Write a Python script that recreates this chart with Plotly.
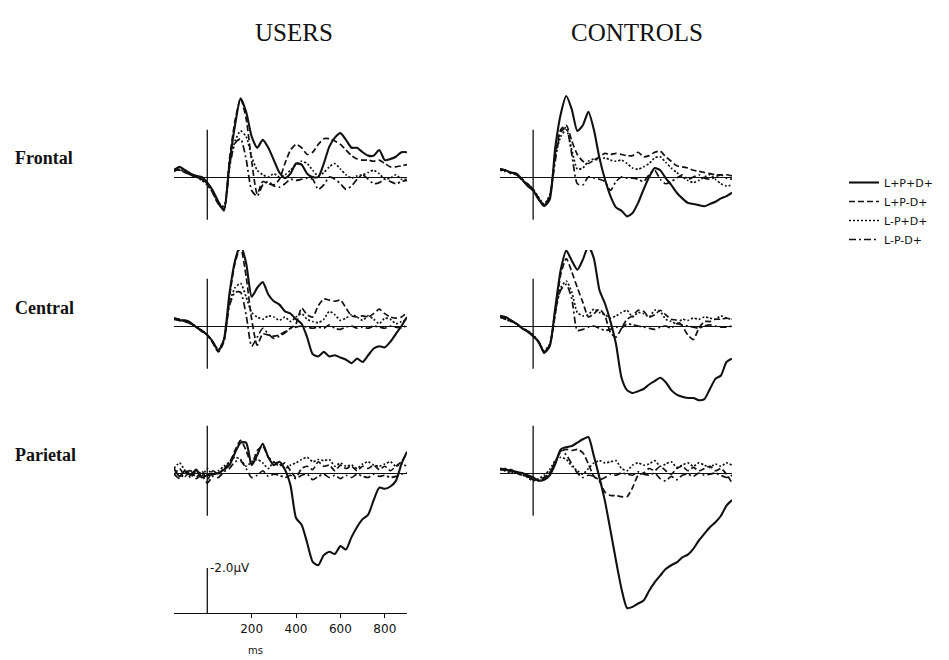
import plotly.graph_objects as go

# ---------------- data (µV, ERP convention: negative plotted upward) ----------------
T_MS = [-150, -125, -100, -75, -50, -25, 0, 25, 50, 75, 100, 125, 150, 175, 200, 225, 250,
        275, 300, 325, 350, 375, 400, 425, 450, 475, 500, 525, 550, 575, 600, 625, 650,
        675, 700, 725, 750, 775, 800, 825, 850, 875, 900]

CONDITIONS = ["L+P+D+", "L+P-D+", "L-P+D+", "L-P-D+"]
GROUPS = ["USERS", "CONTROLS"]
SITES = ["Frontal", "Central", "Parietal"]

# USERS - Frontal
uf_pp = [-0.3, -0.45, -0.3, -0.15, -0.05, 0.0, 0.25, 0.6, 1.1, 1.5, -0.6, -2.3, -3.5, -2.9, -1.8, -1.3, -1.65, -1.3, -0.75, -0.2, 0.05, -0.15, -0.6, -0.55, -0.15, 0.0, 0.0, -0.6, -1.35, -1.75, -1.95, -1.65, -1.3, -1.3, -1.1, -0.95, -0.95, -1.2, -0.75, -0.8, -0.9, -1.1, -1.1]
uf_pm = [-0.35, -0.3, -0.2, -0.1, 0.0, 0.1, 0.3, 0.7, 1.2, 1.4, -0.8, -2.5, -3.5, -2.6, -0.7, 0.75, 0.2, 0.3, 0.35, 0.1, -0.6, -1.2, -1.45, -1.3, -1.0, -1.1, -1.45, -1.7, -1.7, -1.6, -1.45, -1.2, -0.95, -0.8, -0.75, -0.75, -0.7, -0.75, -0.6, -0.45, -0.45, -0.5, -0.55]
uf_mp = [-0.25, -0.35, -0.2, -0.1, 0.0, 0.15, 0.35, 0.7, 1.15, 1.3, -0.5, -1.6, -2.05, -1.8, -0.9, -0.3, -0.1, 0.0, -0.15, 0.0, -0.1, -0.3, -0.55, -0.7, -0.6, -0.3, -0.05, -0.2, -0.45, -0.6, -0.35, -0.1, 0.05, -0.05, -0.1, -0.2, -0.3, -0.15, 0.1, 0.05, -0.1, 0.1, 0.1]
uf_mm = [-0.3, -0.3, -0.25, -0.1, 0.0, 0.1, 0.3, 0.7, 1.2, 1.45, -0.4, -1.5, -1.7, -0.8, 0.6, 0.85, 0.35, 0.2, 0.4, 0.45, 0.3, 0.1, 0.15, 0.1, 0.05, 0.1, 0.55, 0.35, 0.0, 0.1, 0.3, 0.55, 0.4, 0.1, -0.1, 0.1, 0.3, 0.25, 0.1, 0.2, 0.3, 0.2, 0.15]

# CONTROLS - Frontal
cf_pp = [-0.35, -0.3, -0.2, -0.15, 0.1, 0.4, 0.6, 1.0, 1.3, 1.0, -1.3, -2.8, -3.6, -3.0, -2.05, -2.3, -2.9, -2.1, -0.85, 0.1, 0.85, 1.35, 1.5, 1.75, 1.6, 1.15, 0.55, 0.0, -0.4, -0.3, 0.05, 0.35, 0.7, 0.95, 1.15, 1.2, 1.25, 1.3, 1.2, 1.1, 0.95, 0.85, 0.7]
cf_pm = [-0.35, -0.3, -0.2, -0.1, 0.15, 0.35, 0.55, 0.95, 1.25, 0.85, -1.0, -2.1, -2.3, -1.6, -1.0, -0.7, -0.6, -0.75, -0.9, -1.05, -1.0, -1.05, -1.0, -0.95, -0.95, -1.1, -0.9, -0.95, -1.1, -1.15, -0.9, -0.7, -0.5, -0.45, -0.4, -0.3, -0.25, -0.2, -0.15, -0.1, -0.1, -0.1, -0.05]
cf_mp = [-0.3, -0.25, -0.2, -0.1, 0.1, 0.35, 0.55, 0.9, 1.2, 0.8, -0.9, -1.8, -2.1, -1.2, -0.35, -0.4, -0.7, -0.8, -0.75, -0.85, -0.75, -0.7, -0.75, -0.6, -0.4, -0.35, -0.45, -0.6, -0.85, -0.9, -0.65, -0.4, -0.2, 0.0, 0.15, 0.25, 0.15, 0.0, -0.1, 0.1, 0.3, 0.4, 0.35]
cf_mm = [-0.35, -0.3, -0.15, -0.1, 0.1, 0.3, 0.55, 0.95, 1.25, 0.85, -0.7, -2.0, -2.2, -1.0, 0.3, 0.35, 0.0, 0.05, 0.1, 0.2, 0.6, 0.2, 0.0, 0.05, 0.05, 0.1, 0.2, -0.1, -0.3, 0.1, 0.3, 0.2, 0.05, -0.1, 0.1, 0.0, -0.1, 0.05, 0.1, 0.0, -0.1, 0.05, 0.1]

# USERS - Central
uc_pp = [-0.3, -0.25, -0.25, -0.15, 0.05, 0.2, 0.4, 0.7, 1.1, 0.6, -1.45, -2.9, -3.6, -2.8, -1.3, -1.7, -1.95, -1.4, -1.1, -0.95, -0.65, -0.55, -0.3, -0.1, 0.5, 1.25, 1.35, 1.15, 1.35, 1.3, 1.4, 1.5, 1.65, 1.45, 1.6, 1.3, 1.0, 0.9, 0.95, 0.7, 0.35, 0.0, -0.4]
uc_pm = [-0.35, -0.3, -0.2, -0.1, 0.05, 0.25, 0.4, 0.75, 1.15, 0.7, -1.3, -2.8, -3.5, -2.2, -0.3, 0.85, 0.35, 0.4, 0.45, 0.4, 0.25, 0.1, -0.1, -0.8, -0.5, -0.4, -0.9, -1.2, -1.15, -1.1, -1.15, -0.8, -0.45, -0.4, -0.45, -0.4, -0.55, -0.75, -0.55, -0.4, -0.35, -0.4, -0.6]
uc_mp = [-0.3, -0.3, -0.2, -0.1, 0.05, 0.2, 0.4, 0.7, 1.05, 0.6, -1.0, -1.7, -1.9, -1.3, -0.6, -0.4, -0.3, -0.45, -0.4, -0.25, -0.4, -0.2, -0.4, -0.55, -0.3, -0.2, -0.15, -0.3, -0.65, -0.5, -0.25, -0.35, -0.5, -0.4, -0.25, -0.45, -0.3, -0.1, -0.35, -0.3, -0.1, -0.2, -0.3]
uc_mm = [-0.35, -0.25, -0.2, -0.1, 0.0, 0.2, 0.4, 0.75, 1.1, 0.65, -0.9, -1.5, -1.5, -0.5, 0.9, 0.5, 0.1, 0.35, 0.55, 0.45, 0.3, 0.1, 0.05, 0.0, 0.05, 0.1, 0.05, 0.1, -0.05, 0.1, 0.15, 0.05, 0.0, 0.1, 0.05, 0.1, 0.0, 0.05, 0.1, 0.0, 0.05, 0.1, -0.05]

# CONTROLS - Central
cc_pp = [-0.45, -0.4, -0.25, -0.1, 0.1, 0.25, 0.45, 0.7, 1.2, 0.9, -0.8, -2.5, -3.35, -2.9, -2.5, -2.95, -3.55, -3.0, -1.6, -1.0, -0.2, 0.8, 2.3, 2.85, 2.98, 2.9, 2.8, 2.6, 2.45, 2.3, 2.5, 2.85, 3.05, 3.15, 3.2, 3.2, 3.3, 3.25, 2.8, 2.35, 2.2, 1.6, 1.45]
cc_pm = [-0.4, -0.35, -0.25, -0.1, 0.1, 0.25, 0.45, 0.75, 1.15, 0.85, -0.5, -2.3, -3.0, -2.4, -1.7, -1.05, -0.4, -0.55, -0.75, -0.45, 0.3, 0.5, 0.1, -0.3, -0.45, -0.7, -0.65, -0.4, -0.5, -0.7, -0.5, -0.3, -0.25, 0.0, 0.4, 0.6, 0.1, -0.2, -0.2, -0.3, -0.3, -0.35, -0.3]
cc_mp = [-0.4, -0.3, -0.2, -0.1, 0.1, 0.2, 0.4, 0.7, 1.1, 0.8, -0.6, -1.7, -2.0, -1.5, -0.6, -0.45, -0.5, -0.75, -0.6, -0.5, -0.35, -0.45, -0.6, -0.7, -0.4, -0.6, -0.55, -0.4, -0.7, -0.65, -0.3, -0.2, -0.1, -0.3, -0.25, -0.35, -0.3, -0.4, -0.35, -0.3, -0.45, -0.35, -0.3]
cc_mm = [-0.4, -0.3, -0.2, -0.1, 0.1, 0.25, 0.4, 0.7, 1.15, 0.85, -0.7, -1.6, -1.85, -1.2, 0.2, 0.15, 0.05, 0.0, 0.1, 0.2, 0.15, 0.05, 0.1, -0.1, -0.05, 0.0, 0.05, 0.1, 0.15, 0.05, 0.0, 0.1, -0.1, -0.05, 0.0, 0.05, 0.1, 0.0, -0.05, 0.0, 0.05, 0.05, 0.0]

# USERS - Parietal
up_pp = [-0.2, 0.15, -0.1, 0.1, -0.15, 0.2, 0.1, 0.05, 0.0, -0.15, -0.35, -0.9, -1.35, -1.35, -0.35, -0.8, -1.3, -0.7, -0.35, -0.5, -0.15, 0.55, 2.0, 2.3, 3.1, 3.95, 4.1, 3.65, 3.5, 3.6, 3.25, 3.4, 2.85, 2.4, 2.05, 1.85, 1.2, 0.65, 0.7, 0.6, 0.35, -0.4, -0.95]
up_pm = [0.1, -0.2, 0.15, -0.1, 0.2, -0.1, 0.3, -0.1, 0.05, -0.2, -0.45, -1.0, -1.45, -1.0, -0.4, -1.0, -1.2, -0.7, -0.5, -0.3, -0.45, -0.1, 0.2, -0.2, -0.3, -0.15, -0.5, -0.3, -0.35, -0.1, -0.35, -0.2, -0.3, -0.1, -0.3, -0.2, -0.35, -0.15, -0.3, -0.1, -0.3, -0.5, -0.9]
up_mp = [-0.2, -0.45, -0.1, 0.2, -0.1, 0.15, -0.2, 0.1, -0.1, -0.3, -0.5, -0.7, -0.6, -0.3, -0.5, -0.6, -0.45, -0.2, -0.5, -0.4, -0.2, -0.35, -0.45, -0.6, -0.7, -0.5, -0.6, -0.55, -0.6, -0.3, -0.45, -0.3, -0.35, -0.2, -0.4, -0.5, -0.35, -0.3, -0.4, -0.5, -0.3, -0.4, -0.3]
up_mm = [0.05, 0.25, 0.0, -0.1, 0.25, 0.1, 0.45, 0.15, 0.2, -0.05, -0.2, -0.5, -0.55, -0.2, 0.2, 0.1, -0.1, 0.15, 0.05, 0.1, 0.2, 0.1, 0.25, 0.1, 0.05, 0.3, 0.15, 0.05, 0.2, 0.1, 0.25, 0.1, 0.2, 0.05, 0.15, 0.2, 0.05, 0.15, 0.1, 0.2, 0.15, 0.05, 0.0]

# CONTROLS - Parietal
cp_pp = [-0.2, -0.15, -0.1, -0.05, 0.0, 0.1, 0.2, 0.33, 0.3, 0.1, -0.4, -1.05, -1.15, -1.2, -1.35, -1.5, -1.6, -0.75, 0.2, 1.25, 2.55, 3.9, 5.15, 6.0, 5.95, 5.8, 5.67, 5.23, 4.86, 4.56, 4.27, 4.1, 3.97, 3.75, 3.63, 3.37, 3.0, 2.7, 2.41, 2.19, 1.9, 1.45, 1.2]
cp_pm = [-0.2, -0.1, -0.15, 0.0, 0.1, 0.15, 0.3, 0.3, 0.2, 0.0, -0.5, -0.95, -1.05, -1.0, -1.05, -0.9, -0.4, 0.15, 0.35, 0.85, 1.0, 1.0, 1.05, 1.05, 0.65, 0.1, 0.0, -0.2, -0.1, -0.3, -0.1, 0.05, -0.2, -0.3, -0.1, -0.25, -0.1, -0.2, -0.3, -0.1, -0.2, 0.05, 0.45]
cp_mp = [-0.15, -0.1, 0.0, -0.05, 0.05, 0.2, 0.35, 0.25, 0.1, -0.15, -0.55, -0.7, -0.6, -0.3, -0.1, 0.05, -0.2, -0.45, -0.55, -0.45, -0.5, -0.55, -0.2, -0.1, -0.35, -0.45, -0.35, -0.4, -0.55, -0.3, -0.4, -0.5, -0.25, -0.35, -0.45, -0.3, -0.45, -0.35, -0.25, -0.4, -0.3, -0.45, -0.35]
cp_mm = [-0.15, -0.2, -0.05, 0.0, 0.1, 0.15, 0.3, 0.35, 0.2, 0.0, -0.5, -1.0, -0.8, -0.4, 0.0, 0.2, 0.1, 0.15, 0.3, 0.2, 0.05, 0.1, 0.0, 0.05, 0.1, -0.05, 0.05, 0.1, 0.0, 0.25, 0.35, 0.15, 0.3, 0.1, 0.05, 0.15, 0.0, 0.1, 0.05, 0.0, 0.1, 0.2, 0.1]

STIM_MARK_UV = [-2.1, 1.9]          # vertical stimulus-onset marker extent
SCALE_UV = -2.0                      # calibration bar
SCALE_TICKS_MS = [200, 400, 600, 800]

PANELS = {
    ("USERS", "Frontal"): [uf_pp, uf_pm, uf_mp, uf_mm],
    ("CONTROLS", "Frontal"): [cf_pp, cf_pm, cf_mp, cf_mm],
    ("USERS", "Central"): [uc_pp, uc_pm, uc_mp, uc_mm],
    ("CONTROLS", "Central"): [cc_pp, cc_pm, cc_mp, cc_mm],
    ("USERS", "Parietal"): [up_pp, up_pm, up_mp, up_mm],
    ("CONTROLS", "Parietal"): [cp_pp, cp_pm, cp_mp, cp_mm],
}

# ---------------- layout geometry (screen pixels of the 949x660 window) ----------------
VW, VH = 949, 660
OFF = 8                       # default page margin around the plot div
FW, FH = VW - OFF, VH - OFF   # figure size


def fx(px):
    return (px - OFF) / FW


def fy(py):
    return 1 - (py - OFF) / FH


INK = "#111111"
PX_PER_UV = 22.5
COL_PX = {"USERS": (174, 407), "CONTROLS": (500, 732)}
ROW_PX = {  # (band top, baseline, band bottom)
    "Frontal": (88, 177, 232),
    "Central": (250, 326, 420),
    "Parietal": (398, 473, 625),
}
LABEL_Y = {"Frontal": 158, "Central": 308, "Parietal": 455}
TITLE_X = {"USERS": 294, "CONTROLS": 637}
DASHES = ["solid", "6px,3px", "2px,2px", "7px,3px,2px,3px"]
WIDTHS = [2.1, 1.7, 1.7, 1.7]
TITLE_FONT = "Liberation Serif, DejaVu Serif, serif"
SANS = "DejaVu Sans, Liberation Sans, sans-serif"

fig = go.Figure()
layout = dict(width=FW, height=FH, margin=dict(l=0, r=0, t=0, b=0),
              paper_bgcolor="white", plot_bgcolor="rgba(0,0,0,0)", showlegend=True)

k = 0
for site in SITES:
    for group in GROUPS:
        k += 1
        xa, ya = f"x{k}", f"y{k}"
        x0, x1 = COL_PX[group]
        top, base, bot = ROW_PX[site]
        layout[f"xaxis{k}"] = dict(domain=[fx(x0), fx(x1)], range=[T_MS[0], T_MS[-1]],
                                   visible=False, anchor=ya)
        layout[f"yaxis{k}"] = dict(domain=[fy(bot), fy(top)],
                                   range=[(bot - base) / PX_PER_UV, (top - base) / PX_PER_UV],
                                   showgrid=False, showticklabels=False, showline=False,
                                   ticks="", zeroline=True, zerolinecolor=INK,
                                   zerolinewidth=1.3, anchor=xa)
        for i, vals in enumerate(PANELS[(group, site)]):
            fig.add_trace(go.Scatter(
                x=T_MS, y=vals, mode="lines", name=CONDITIONS[i],
                legendgroup=CONDITIONS[i], showlegend=(k == 1),
                line=dict(color=INK, width=WIDTHS[i], dash=DASHES[i],
                          shape="spline", smoothing=0.6),
                xaxis=xa, yaxis=ya, hoverinfo="skip"))
        fig.add_trace(go.Scatter(x=[0, 0], y=STIM_MARK_UV, mode="lines",
                                 line=dict(color=INK, width=1.3), showlegend=False,
                                 xaxis=xa, yaxis=ya, hoverinfo="skip"))

# calibration axis
AXIS_Y = 613
cx0, cx1 = COL_PX["USERS"]
layout["xaxis7"] = dict(domain=[fx(cx0), fx(cx1)], range=[T_MS[0], T_MS[-1]],
                        anchor="free", position=fy(AXIS_Y),
                        showline=True, linecolor=INK, linewidth=1.3,
                        ticks="outside", ticklen=4, tickcolor=INK, tickwidth=1.3,
                        tickvals=SCALE_TICKS_MS, ticktext=[str(v) for v in SCALE_TICKS_MS],
                        tickfont=dict(family=SANS, size=12, color=INK),
                        showgrid=False, zeroline=False)
layout["yaxis7"] = dict(domain=[fy(640), fy(540)],
                        range=[(640 - AXIS_Y) / PX_PER_UV, (540 - AXIS_Y) / PX_PER_UV],
                        visible=False, anchor="x7")
fig.add_trace(go.Scatter(x=[0, 0], y=[0, SCALE_UV], mode="lines",
                         line=dict(color=INK, width=1.3), showlegend=False,
                         xaxis="x7", yaxis="y7", hoverinfo="skip"))

annotations = [
    dict(text="-2.0\u00b5V", x=0, y=SCALE_UV, xref="x7", yref="y7", xanchor="left",
         yanchor="middle", xshift=1, showarrow=False,
         font=dict(family=SANS, size=12, color=INK)),
    dict(text="ms", x=fx(256), y=fy(650), xref="paper", yref="paper",
         xanchor="center", yanchor="middle", showarrow=False,
         font=dict(family=SANS, size=10, color=INK)),
]
for group in GROUPS:
    annotations.append(dict(text=group, x=fx(TITLE_X[group]), y=fy(32),
                            xref="paper", yref="paper", xanchor="center", yanchor="middle",
                            showarrow=False, font=dict(family=TITLE_FONT, size=25, color=INK)))
for site in SITES:
    annotations.append(dict(text=f"<b>{site}</b>", x=fx(13), y=fy(LABEL_Y[site]),
                            xref="paper", yref="paper", xanchor="left", yanchor="middle",
                            showarrow=False, font=dict(family=TITLE_FONT, size=18, color=INK)))
layout["annotations"] = annotations
layout["legend"] = dict(x=fx(844), y=fy(168), xanchor="left", yanchor="top",
                        bgcolor="rgba(0,0,0,0)", borderwidth=0, itemwidth=30,
                        tracegroupgap=0, font=dict(family=SANS, size=11, color=INK),
                        itemclick=False, itemdoubleclick=False)

fig.update_layout(**layout)
fig.write_html("out.html")
